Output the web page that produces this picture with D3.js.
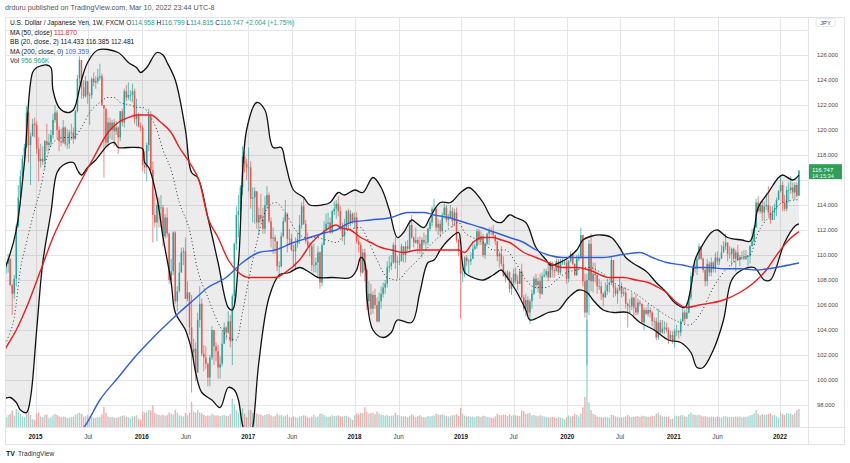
<!DOCTYPE html>
<html>
<head>
<meta charset="utf-8">
<script src="https://cdn.jsdelivr.net/npm/d3@7"></script>
<style>
  body { margin: 0; background: #fff; }
  svg { display: block; font-family: "Liberation Sans", Arial, sans-serif; }
</style>
</head>
<body>
<div class="svg-container"></div>
<script>
// weekly USD/JPY bars, first bar = week of 2014-09-15
var firstOpen = 107.3;

var closes = [
  109.0,109.3,109.7,107.6,106.9,108.1,112.3,114.6,116.3,117.7,118.6,121.4,118.8,119.5,120.5,120.4,
  118.5,117.5,117.7,117.5,119.1,118.8,119.0,119.6,120.8,121.4,120.0,119.1,
  119.0,120.2,118.9,118.9,119.8,119.8,119.3,121.5,124.1,125.6,123.4,122.7,
  123.9,122.8,122.8,124.1,123.8,123.9,124.2,124.3,122.0,121.7,119.0,120.6,
  120.0,120.6,119.9,120.2,119.4,121.5,120.6,123.1,122.6,122.8,122.8,123.1,120.9,121.2,120.3,120.2,
  117.2,117.0,118.8,121.1,116.8,113.2,112.6,114.0,113.8,113.8,111.5,113.0,
  111.7,108.0,108.7,111.8,106.3,107.1,108.6,110.2,110.3,106.5,107.0,104.2,
  102.2,102.5,100.6,104.8,106.1,102.1,101.8,101.3,100.2,101.8,104.0,102.7,
  102.3,101.0,101.3,102.9,104.2,103.8,104.7,103.1,106.7,110.9,113.2,113.5,115.4,117.9,117.3,117.0,
  117.0,114.5,114.6,115.1,112.6,113.2,112.9,112.1,114.0,114.8,112.7,111.3,
  111.4,111.1,109.1,109.1,111.5,112.7,113.3,111.3,111.3,110.4,110.3,110.9,
  111.3,112.4,113.9,112.5,111.1,110.7,110.7,109.2,109.2,109.4,110.2,107.8,
  110.8,112.0,112.5,112.6,111.8,113.5,113.7,114.1,113.5,112.1,111.5,112.2,113.5,112.6,113.3,112.7,
  113.0,111.1,110.8,108.6,110.2,108.8,106.3,106.9,105.7,106.8,106.0,104.7,
  106.3,106.9,107.4,107.7,109.0,109.1,109.4,110.8,109.4,109.5,109.5,110.7,
  110.0,110.7,110.5,112.4,111.4,111.0,111.2,110.9,110.5,111.2,111.0,111.0,
  112.1,112.6,113.7,113.7,112.2,112.5,111.9,113.2,113.8,112.8,113.0,113.5,112.7,113.4,111.2,110.3,108.5,
  108.5,109.8,109.5,109.5,109.7,110.5,110.7,111.9,111.2,111.5,110.0,110.9,
  111.7,112.0,111.9,111.6,111.1,109.9,110.1,109.3,108.3,108.2,108.6,107.3,
  107.8,108.5,107.9,107.7,108.7,106.6,105.7,106.4,105.4,106.3,106.9,108.1,
  107.6,107.9,106.9,108.3,108.4,108.7,108.2,109.3,108.8,108.7,109.5,108.6,109.4,109.4,109.4,108.1,
  109.5,110.1,109.3,108.4,109.7,109.8,111.6,107.9,105.4,108.0,110.9,107.9,
  108.5,108.4,107.5,107.5,106.9,106.6,107.1,107.6,107.8,109.6,107.4,106.9,
  107.2,107.5,106.9,107.0,106.1,105.9,105.9,106.6,105.8,105.4,106.2,106.1,
  104.6,105.6,105.3,105.6,105.4,104.7,104.7,103.4,104.6,103.8,104.1,104.2,104.0,103.3,103.6,103.2,
  103.9,103.9,103.8,104.7,105.4,104.9,105.4,106.6,108.3,109.0,108.9,109.7,
  110.7,109.7,108.8,107.9,109.3,108.6,109.4,108.9,109.8,109.5,109.7,110.2,
  110.7,111.0,110.1,110.1,110.5,109.7,110.2,109.6,109.8,109.8,109.7,109.9,
  109.9,110.7,111.1,112.2,114.2,113.5,114.0,113.4,113.9,114.0,113.4,112.8,113.4,113.7,114.4,115.1,
  115.6,114.2,113.7,115.2,115.2,115.4,115.0,115.6,114.74,116.747
];

var highs = [
  109.4,109.5,110.1,109.2,107.7,108.4,112.5,115.6,116.8,118.0,118.9,121.9,121.5,119.8,120.9,121.0,
  120.7,119.4,118.9,118.7,119.2,120.5,119.7,120.0,121.3,122.0,121.6,120.3,
  120.1,120.8,120.3,120.1,120.0,120.5,120.2,121.6,124.4,125.9,125.0,124.0,
  124.3,123.9,123.0,124.2,124.6,124.3,124.9,125.3,124.5,122.0,121.6,121.0,
  121.0,120.8,120.9,120.7,120.3,121.5,121.7,123.3,123.6,123.8,123.2,123.7,123.3,122.5,121.4,120.6,
  120.4,118.3,119.0,121.7,121.5,117.5,114.9,114.2,114.6,114.8,114.0,113.3,
  113.8,111.8,109.7,111.9,111.9,107.5,109.4,110.6,110.6,111.4,107.9,107.0,
  106.8,103.3,103.0,105.4,107.5,106.5,102.8,102.7,101.4,102.0,104.3,104.0,
  103.0,102.8,101.9,103.9,104.6,104.3,105.5,105.2,106.9,111.0,113.9,114.8,115.6,118.7,118.3,117.7,
  118.6,117.5,115.4,115.4,115.0,113.8,114.9,113.8,114.7,115.5,115.0,113.0,
  112.2,111.6,111.0,109.5,111.8,113.0,114.4,113.4,112.1,111.7,110.8,111.4,
  111.8,113.2,114.2,114.5,112.8,111.8,111.0,110.9,110.9,109.8,110.7,110.3,
  111.0,112.7,113.3,113.4,113.0,113.6,114.3,114.4,114.7,113.9,112.6,112.9,113.6,113.7,113.6,113.4,
  113.4,113.4,111.5,111.0,110.5,110.5,108.9,107.9,107.7,107.1,107.3,106.6,
  107.0,107.5,107.8,108.0,109.5,109.9,110.0,111.0,111.4,109.9,110.3,110.9,
  110.6,111.1,111.2,112.8,113.2,111.5,112.2,111.4,111.5,111.4,111.8,111.6,
  112.2,112.8,113.9,114.5,113.9,112.9,112.8,113.4,114.1,114.0,113.3,114.0,113.8,113.7,113.8,111.3,110.1,
  109.0,109.9,110.0,109.7,110.2,111.1,110.9,112.1,112.1,111.9,111.7,111.0,
  111.8,112.2,112.2,112.4,111.6,111.0,110.3,110.7,109.9,108.7,108.8,108.7,
  108.2,108.9,109.0,108.4,108.8,109.3,106.8,106.9,106.7,106.5,107.2,108.3,
  108.5,108.2,108.5,108.6,108.9,108.9,109.3,109.5,109.5,109.0,109.7,109.7,109.7,109.7,109.6,109.7,
  109.6,110.3,110.2,109.3,110.0,110.1,112.2,111.6,108.5,108.5,111.2,111.7,
  109.4,109.4,108.1,108.1,107.9,107.0,107.8,108.1,107.9,109.9,109.6,107.6,
  107.4,108.2,107.8,107.4,107.4,106.2,106.5,107.0,106.6,106.9,106.5,106.4,
  106.1,105.8,105.8,106.1,105.8,105.5,105.0,105.0,105.7,104.8,104.8,104.7,104.6,104.2,103.9,103.9,
  104.1,104.4,104.0,104.9,105.8,105.6,106.2,106.7,108.6,109.2,109.4,109.9,
  110.9,110.7,109.8,108.9,109.7,109.5,109.8,109.5,110.2,110.3,109.8,110.8,
  111.1,111.7,111.0,110.7,110.6,110.6,110.4,110.8,110.0,110.3,110.4,110.4,
  110.0,110.8,112.1,112.4,114.5,114.7,114.3,114.4,114.3,115.0,115.5,113.9,113.9,114.1,114.6,115.2,
  116.4,115.9,114.8,115.5,115.8,116.3,115.8,115.8,115.8,116.799
];

var lows = [
  107.1,108.5,108.6,107.5,105.2,106.5,107.5,112.2,114.0,116.1,117.2,118.6,117.4,115.6,119.5,119.4,
  118.1,115.9,117.0,117.2,116.9,118.3,118.3,118.7,119.3,120.6,119.3,118.3,
  118.7,118.9,118.7,118.5,118.5,119.2,118.9,119.2,121.4,123.7,122.5,122.5,
  122.6,122.1,120.4,122.5,123.5,123.3,123.7,124.0,121.9,116.2,118.6,118.6,
  119.3,119.2,118.7,119.6,118.1,119.1,120.3,120.2,122.3,122.4,122.3,122.2,120.5,120.3,120.2,119.9,
  116.7,116.5,115.9,118.3,116.5,111.0,112.2,111.1,112.2,112.2,110.7,111.3,
  111.4,107.7,107.6,108.4,106.1,105.5,107.0,108.7,109.2,106.5,106.3,103.6,
  99.0,101.4,99.9,100.6,104.2,101.9,100.7,100.9,99.5,99.5,101.6,101.2,
  101.5,100.1,100.1,101.1,103.0,103.2,103.7,102.6,101.2,106.1,110.4,111.4,112.9,114.8,116.6,116.0,
  115.1,113.7,112.6,112.5,112.1,111.6,112.6,111.7,111.7,113.7,112.6,110.6,
  110.1,110.1,108.7,108.1,109.0,111.4,112.6,110.2,110.8,110.3,109.1,108.8,
  110.6,110.9,112.1,112.4,110.9,110.6,109.9,108.7,108.6,108.6,108.3,107.3,
  107.5,110.8,111.9,112.1,111.7,111.7,113.2,112.9,113.1,112.0,111.1,110.8,112.0,112.1,112.3,112.5,
  112.1,110.9,110.2,108.3,108.5,107.9,105.6,105.6,105.2,105.3,105.7,104.6,
  104.6,105.7,106.6,106.9,107.4,108.6,108.8,109.3,108.9,108.1,109.2,109.6,
  109.4,109.4,110.3,110.3,111.3,110.6,110.9,110.1,110.1,109.8,110.8,110.4,
  110.8,111.9,112.3,113.5,111.9,111.6,111.4,111.8,112.9,112.6,112.3,112.9,112.2,112.3,111.0,109.9,104.9,
  107.8,108.2,109.1,108.5,109.2,109.7,110.4,110.5,110.8,110.8,109.8,109.7,
  110.8,110.8,111.6,111.4,110.8,109.5,109.0,109.1,108.3,107.8,108.0,107.0,
  106.8,107.6,107.7,107.2,107.7,106.5,105.5,105.1,105.1,104.5,105.7,106.8,
  107.3,107.0,106.5,106.8,108.2,108.2,107.9,108.2,108.2,108.2,108.7,108.4,108.4,109.2,109.2,107.7,
  107.8,109.4,109.2,108.3,108.3,109.5,109.7,107.5,105.0,101.2,105.2,107.1,
  107.0,107.8,106.9,107.2,106.4,105.9,106.6,106.8,107.0,107.6,106.6,106.7,
  106.1,107.1,106.6,106.7,105.7,104.2,105.3,105.6,105.1,105.2,105.2,105.9,
  104.5,104.0,105.2,105.1,105.0,104.3,104.0,103.2,103.2,103.7,103.7,103.7,103.8,102.9,103.1,102.9,
  102.6,103.5,103.3,103.5,104.6,104.5,104.9,105.3,106.4,108.3,108.6,108.4,
  109.6,109.6,108.6,107.5,107.5,108.3,108.3,108.6,108.6,109.2,109.2,109.7,
  110.2,110.4,109.5,109.7,109.1,109.4,108.7,109.5,109.1,109.6,109.6,109.6,
  109.1,109.3,110.7,110.8,112.2,113.4,113.3,112.7,112.7,113.6,113.1,112.5,113.0,112.8,113.1,114.4,
  115.0,113.5,113.5,113.5,114.2,114.9,114.5,114.4,114.6,114.815
];

// volume, thousands
var volumes = [
  560,520,640,700,880,600,950,820,700,560,520,760,820,640,420,380,
  700,780,560,520,640,660,480,520,620,700,640,560,
  520,560,540,480,500,520,540,660,720,760,700,560,
  580,640,560,520,480,500,520,540,680,1060,760,560,
  520,540,500,480,520,560,600,620,540,520,460,580,560,620,440,380,
  820,760,780,900,880,1150,760,680,640,620,660,600,
  640,780,700,660,900,760,620,600,560,740,620,760,
  1330,820,760,900,780,720,640,580,620,600,720,640,
  600,620,580,620,640,580,600,680,1500,1200,900,760,800,1000,700,520,
  880,900,760,740,720,680,660,600,640,680,700,620,
  560,580,700,620,640,560,600,660,520,500,560,520,
  480,560,580,620,600,520,480,540,660,520,560,700,
  720,640,560,540,560,620,580,600,620,560,540,580,600,540,460,380,
  620,720,680,760,740,1050,800,720,740,760,680,820,
  720,660,640,600,640,580,600,620,760,640,620,580,
  560,580,520,600,680,600,540,580,620,560,520,540,
  580,560,600,620,700,660,640,680,620,580,560,600,620,640,680,600,1000,
  720,600,560,580,540,560,520,580,560,540,600,580,
  540,520,500,480,560,700,640,620,660,640,580,680,
  600,640,620,600,580,880,820,700,720,760,620,640,
  600,580,620,600,560,540,520,500,540,520,480,520,500,480,420,520,
  620,560,600,680,640,560,720,1050,1600,5700,1300,900,
  700,640,560,540,520,500,540,520,500,660,620,560,
  540,520,500,520,560,640,560,520,540,560,580,540,
  600,580,560,540,560,600,580,700,760,620,560,560,540,560,420,440,
  560,600,580,620,640,560,540,680,760,660,640,620,
  660,600,560,580,540,520,560,540,520,560,520,500,
  560,580,540,520,540,520,560,540,560,500,540,540,
  560,620,640,720,900,700,620,680,640,660,700,740,620,640,560,480,
  780,700,640,740,700,720,660,740,900,957
];

// indicator lines: [week index, price]
var upperBand = [
  [0,108.8],[2,109.6],[6,112.0],[10,117.4],[14,124.6],[16,125.0],[21,125.2],[23,125.0],[24,123.2],[27,121.8],
  [31,121.4],[34,121.6],[38,124.0],[41,125.4],[46,126.4],[56,126.2],[61,125.4],[65,125.0],[67,124.6],[70,125.0],
  [75,126.2],[78,126.0],[80,125.4],[84,124.0],[89,120.0],[92,116.6],[95,116.2],[100,113.0],[105,109.4],[110,105.8],
  [112,105.6],[115,109.4],[119,120.0],[124,122.2],[128,121.6],[132,118.6],[136,118.6],[138,117.4],[142,115.2],[147,114.6],
  [150,114.0],[156,114.0],[160,114.2],[164,115.0],[167,114.8],[172,115.2],[176,115.0],[181,116.2],[185,115.4],[189,113.6],
  [193,111.4],[196,111.8],[200,112.8],[202,112.6],[206,112.2],[209,113.0],[214,114.2],[219,114.2],[224,115.0],[228,115.4],
  [230,115.2],[235,114.2],[240,112.8],[244,112.6],[248,113.2],[251,113.0],[256,112.6],[261,110.6],[266,109.6],[268,109.2],
  [275,109.6],[281,110.4],[284,111.2],[288,111.5],[293,111.6],[298,111.4],[302,110.6],[305,109.8],[309,109.3],[315,108.7],
  [320,107.8],[325,107.0],[329,106.2],[334,105.8],[337,107.4],[339,109.6],[342,110.6],[347,111.8],[350,112.0],[355,111.4],
  [362,111.2],[366,111.1],[368,112.0],[370,113.8],[375,115.0],[380,116.2],[382,116.4],[387,116.0],[390,116.385]
];
var lowerBand = [
  [0,98.5],[3,98.6],[6,98.2],[8,97.6],[11,97.4],[13,98.6],[16,104.0],[19,109.4],[23,113.4],[26,116.6],
  [29,117.2],[34,117.4],[36,116.8],[38,116.4],[41,117.0],[45,117.6],[51,118.8],[54,119.0],[56,118.6],[61,118.6],
  [66,118.6],[68,118.5],[69,117.4],[71,117.0],[75,114.6],[78,111.4],[82,107.8],[84,105.4],[89,104.0],[92,102.4],
  [94,100.6],[97,99.0],[102,98.4],[106,97.8],[110,99.4],[113,99.2],[115,98.4],[117,96.4],[120,95.0],[122,96.2],
  [125,101.4],[130,106.6],[135,108.4],[140,108.6],[145,109.0],[150,108.6],[154,108.2],[161,108.2],[170,108.2],[173,108.8],
  [175,109.8],[177,109.4],[178,106.6],[181,104.0],[186,103.4],[190,103.8],[193,104.8],[200,104.6],[204,107.0],[208,109.4],
  [211,109.6],[214,110.4],[218,111.2],[223,111.8],[224,111.0],[226,108.6],[230,108.2],[235,108.0],[240,108.4],[244,108.8],
  [246,108.4],[251,107.2],[256,105.6],[258,104.8],[262,105.0],[267,105.4],[272,105.6],[277,106.6],[282,107.2],[286,107.0],
  [289,106.4],[294,105.6],[299,105.4],[306,105.4],[312,104.6],[319,104.0],[326,103.2],[332,103.0],[337,102.2],[340,101.0],
  [343,101.0],[348,102.4],[353,104.8],[357,108.0],[362,108.8],[368,109.0],[373,108.0],[376,108.0],[383,111.0],[388,112.3],
  [390,112.481]
];
var basisLine = [
  [0,102.6],[2,103.4],[5,105.0],[8,108.8],[11,111.0],[14,113.0],[18,115.4],[21,117.8],[24,119.0],[29,119.4],
  [34,119.4],[38,120.2],[42,121.4],[47,122.2],[51,122.6],[54,122.6],[57,122.2],[62,122.0],[66,121.8],[68,121.8],
  [72,121.0],[75,120.0],[78,118.4],[82,116.8],[86,114.2],[91,112.0],[95,108.8],[100,106.6],[105,104.6],[110,103.4],
  [114,103.2],[117,105.4],[120,108.0],[124,111.0],[128,113.4],[133,114.2],[138,113.4],[143,112.0],[148,111.4],[153,111.4],
  [158,111.2],[163,111.0],[169,112.0],[175,112.2],[178,111.4],[183,109.6],[188,108.2],[193,108.0],[198,108.8],[203,109.6],
  [208,110.6],[213,111.4],[219,112.2],[223,112.6],[226,111.8],[230,111.4],[235,111.0],[240,110.4],[246,110.4],[251,109.4],
  [256,108.0],[261,107.4],[266,107.4],[271,108.0],[276,108.6],[281,108.8],[287,109.0],[293,108.6],[299,107.8],[309,107.0],
  [319,105.8],[329,104.8],[336,104.4],[342,105.4],[348,107.4],[355,109.0],[362,109.8],[366,110.0],[370,111.8],[375,113.0],
  [382,114.2],[390,114.433]
];
var ma50 = [
  [0,102.3],[1,102.6],[6,104.0],[11,105.8],[18,108.8],[24,111.4],[31,113.8],[38,116.0],[44,117.8],[51,119.8],
  [56,120.6],[61,121.0],[65,121.2],[72,121.2],[77,120.6],[82,119.8],[86,118.6],[91,117.4],[96,115.8],[100,113.0],
  [105,111.4],[110,109.6],[115,108.6],[120,108.2],[127,108.2],[133,108.2],[138,108.6],[145,109.6],[151,111.0],[158,112.0],
  [163,112.4],[165,112.2],[170,112.0],[175,111.4],[180,111.0],[185,110.6],[190,110.4],[196,110.2],[203,110.4],[209,110.4],
  [216,110.4],[223,110.4],[226,110.2],[230,111.0],[235,111.4],[240,111.4],[244,111.2],[248,111.0],[255,110.2],[261,109.8],
  [267,109.4],[274,109.0],[281,109.0],[287,108.8],[290,108.6],[297,108.2],[304,108.2],[310,108.0],[316,107.8],[321,107.4],
  [325,107.0],[330,106.2],[335,105.8],[341,106.0],[353,106.4],[361,107.0],[368,107.8],[374,108.8],[380,110.2],[385,111.2],
  [390,111.87]
];
var ma200 = [
  [36,95.6],[40,96.4],[47,98.4],[56,100.2],[64,101.8],[72,103.2],[82,104.8],[86,105.4],[93,106.4],[100,107.4],
  [109,108.2],[117,109.4],[125,110.2],[133,110.4],[142,111.0],[150,111.4],[158,111.8],[163,112.0],[170,112.6],[180,112.8],
  [190,113.0],[198,113.4],[206,113.4],[211,113.2],[218,113.0],[226,112.6],[234,112.2],[241,111.8],[248,111.4],[255,111.0],
  [261,110.4],[267,110.0],[274,109.8],[281,109.8],[287,109.8],[294,109.8],[302,110.0],[312,110.2],[318,109.8],[325,109.4],
  [333,109.2],[339,109.0],[346,109.0],[353,108.9],[361,108.9],[369,108.8],[375,108.9],[382,109.1],[390,109.359]
];

var priceTicks = [98,100,102,104,106,108,110,112,114,116,118,120,122,124,126,128];
var timeTickDates = ["2015-01-01","2015-07-01","2016-01-01","2016-06-01","2017-01-01","2017-06-01","2018-01-01","2018-06-01",
  "2019-01-01","2019-07-01","2020-01-01","2020-07-01","2021-01-01","2021-06-01","2022-01-01"];
var timeTickLabels = ["2015","Jul","2016","Jun","2017","Jun","2018","Jun","2019","Jul","2020","Jul","2021","Jun","2022"];

if (highs.length !== closes.length || lows.length !== closes.length || volumes.length !== closes.length) {
  throw new Error("length mismatch " + closes.length + " " + highs.length + " " + lows.length + " " + volumes.length);
}

var width = 850,
  height = 463;

var svg = d3.select(".svg-container").append("svg")
  .attr("width", width)
  .attr("height", height);

var plotL = 5, plotT = 17, plotR = 808, plotB = 427;
var start = new Date(2014, 8, 15);
var parse = d3.timeParse("%Y-%m-%d");

var x = d3.scaleTime()
  .domain([new Date(2015, 0, 1), new Date(2022, 0, 1)])
  .range([35.5, 780]);
var y = d3.scaleLinear().domain([98, 126]).range([405, 55]);
var vy = d3.scaleLinear().domain([0, 6000]).range([plotB, plotB - 113]);

var xw = function(i) { return x(d3.timeDay.offset(start, 7 * i)); };

var bars = closes.map(function(c, i) {
  var o = i === 0 ? firstOpen : closes[i - 1];
  return {
    i: i, o: o, c: c,
    h: Math.max(highs[i], o, c),
    l: Math.min(lows[i], o, c),
    v: volumes[i]
  };
});

// header
svg.append("text")
  .attr("x", 5).attr("y", 10)
  .attr("font-size", 7.2).attr("fill", "#555")
  .text("drduru published on TradingView.com, Mar 10, 2022 23:44 UTC-8");

// frame
svg.append("rect")
  .attr("x", plotL + 0.5).attr("y", plotT + 0.5)
  .attr("width", 844 - plotL).attr("height", 444 - plotT)
  .attr("fill", "none").attr("stroke", "#e0e3eb");
svg.append("line").attr("x1", plotR + 0.5).attr("x2", plotR + 0.5).attr("y1", plotT).attr("y2", 444.5)
  .attr("stroke", "#e0e3eb");
svg.append("line").attr("x1", plotL).attr("x2", 844.5).attr("y1", plotB + 0.5).attr("y2", plotB + 0.5)
  .attr("stroke", "#e0e3eb");

svg.append("clipPath").attr("id", "plotclip")
  .append("rect").attr("x", plotL + 1).attr("y", plotT + 1)
  .attr("width", plotR - plotL - 1).attr("height", plotB - plotT - 1);

var g = svg.append("g").attr("clip-path", "url(#plotclip)");

// grid
g.selectAll(".hgrid").data(priceTicks).enter().append("line")
  .attr("class", "hgrid")
  .attr("x1", plotL).attr("x2", plotR)
  .attr("y1", function(d) { return Math.round(y(d)) + 0.5; })
  .attr("y2", function(d) { return Math.round(y(d)) + 0.5; })
  .attr("stroke", "#e3e5ea");
g.selectAll(".vgrid").data(timeTickDates).enter().append("line")
  .attr("class", "vgrid")
  .attr("y1", plotT).attr("y2", plotB)
  .attr("x1", function(d) { return Math.round(x(parse(d))) + 0.5; })
  .attr("x2", function(d) { return Math.round(x(parse(d))) + 0.5; })
  .attr("stroke", "#e3e5ea");

// volume
g.selectAll(".vol").data(bars).enter().append("rect")
  .attr("class", "vol")
  .attr("x", function(d) { return xw(d.i) - 0.7; })
  .attr("width", 1.4)
  .attr("y", function(d) { return vy(d.v); })
  .attr("height", function(d) { return plotB - vy(d.v); })
  .attr("fill", function(d) { return d.c >= d.o ? "#9fd8d1" : "#f6aaa8"; });

// bollinger fill
var curve = d3.line()
  .x(function(d) { return xw(d[0]); })
  .y(function(d) { return y(d[1]); })
  .curve(d3.curveCatmullRom.alpha(0.5));

var fillPath = curve(upperBand) + curve(lowerBand.slice().reverse()).replace(/^M/, "L") + "Z";
g.append("path").attr("d", fillPath).attr("fill", "rgba(0,0,0,0.075)");

// candles
var cg = g.selectAll(".candle").data(bars).enter().append("g").attr("class", "candle");
cg.append("line")
  .attr("x1", function(d) { return xw(d.i); })
  .attr("x2", function(d) { return xw(d.i); })
  .attr("y1", function(d) { return y(d.h); })
  .attr("y2", function(d) { return y(d.l); })
  .attr("stroke", function(d) { return d.c >= d.o ? "#26a69a" : "#ef5350"; })
  .attr("stroke-width", 0.7);
cg.append("rect")
  .attr("x", function(d) { return xw(d.i) - 0.75; })
  .attr("width", 1.5)
  .attr("y", function(d) { return y(Math.max(d.o, d.c)); })
  .attr("height", function(d) { return Math.max(0.7, Math.abs(y(d.o) - y(d.c))); })
  .attr("fill", function(d) { return d.c >= d.o ? "#26a69a" : "#ef5350"; });

// indicator lines
var smooth = d3.line()
  .x(function(d) { return xw(d[0]); })
  .y(function(d) { return y(d[1]); })
  .curve(d3.curveMonotoneX);

g.append("path").attr("d", curve(upperBand)).attr("fill", "none").attr("stroke", "#111").attr("stroke-width", 1.3);
g.append("path").attr("d", curve(lowerBand)).attr("fill", "none").attr("stroke", "#111").attr("stroke-width", 1.3);
g.append("path").attr("d", smooth(basisLine)).attr("fill", "none").attr("stroke", "#222")
  .attr("stroke-width", 1).attr("stroke-dasharray", "0.9,2.6");
g.append("path").attr("d", smooth(ma50)).attr("fill", "none").attr("stroke", "#ee1c1c").attr("stroke-width", 1.4);
g.append("path").attr("d", smooth(ma200)).attr("fill", "none").attr("stroke", "#2f5fe0").attr("stroke-width", 1.4);

// legend
var leg = svg.append("g").attr("font-size", 6.6).attr("fill", "#131722");
var l1 = leg.append("text").attr("x", 10).attr("y", 25);
l1.append("tspan").text("U.S. Dollar / Japanese Yen, 1W, FXCM ");
[["O", "114.958"], ["H", "116.799"], ["L", "114.815"], ["C", "116.747"]].forEach(function(p) {
  l1.append("tspan").text(p[0]);
  l1.append("tspan").attr("fill", "#22a08a").text(p[1] + " ");
});
l1.append("tspan").attr("fill", "#22a08a").text("+2.004 (+1.75%)");

var l2 = leg.append("text").attr("x", 10).attr("y", 34.5);
l2.append("tspan").text("MA (50, close) ");
l2.append("tspan").attr("fill", "#ee1c1c").text("111.870");
var l3 = leg.append("text").attr("x", 10).attr("y", 44);
l3.append("tspan").text("BB (20, close, 2) 114.433  116.385  112.481");
var l4 = leg.append("text").attr("x", 10).attr("y", 53.5);
l4.append("tspan").text("MA (200, close, 0) ");
l4.append("tspan").attr("fill", "#2f5fe0").text("109.359");
var l5 = leg.append("text").attr("x", 10).attr("y", 63);
l5.append("tspan").text("Vol ");
l5.append("tspan").attr("fill", "#22a08a").text("956.966K");

// price axis
svg.selectAll(".plabel").data(priceTicks.filter(function(d) { return d !== 116 && d !== 128; })).enter().append("text")
  .attr("class", "plabel")
  .attr("x", 817).attr("y", function(d) { return y(d) + 2; })
  .attr("font-size", 5.8).attr("fill", "#4a4a4a")
  .text(function(d) { return d3.format(".3f")(d); });

svg.append("rect").attr("x", 816).attr("y", 18.5).attr("width", 19).attr("height", 8)
  .attr("rx", 1.5).attr("fill", "#fff").attr("stroke", "#d6d8de").attr("stroke-width", 0.6);
svg.append("text").attr("x", 825.5).attr("y", 24.8).attr("text-anchor", "middle")
  .attr("font-size", 5.8).attr("fill", "#4a4a4a").text("JPY");

var lastY = y(closes[closes.length - 1]);
svg.append("rect").attr("x", 809).attr("y", lastY - 6.5).attr("width", 33).attr("height", 15)
  .attr("fill", "#2f9e56");
svg.append("text").attr("x", 812).attr("y", lastY + 1.2)
  .attr("font-size", 6).attr("fill", "#fff").text("116.747");
svg.append("text").attr("x", 812).attr("y", lastY + 7.2)
  .attr("font-size", 5.6).attr("fill", "#e6f5ea").text("14:15:34");

// time axis
svg.selectAll(".tlabel").data(timeTickDates).enter().append("text")
  .attr("class", "tlabel")
  .attr("x", function(d) { return x(parse(d)); })
  .attr("y", 438.5)
  .attr("text-anchor", "middle")
  .attr("font-size", 6.3)
  .attr("font-weight", function(d, i) { return /^\d+$/.test(timeTickLabels[i]) ? "bold" : "normal"; })
  .attr("fill", function(d, i) { return /^\d+$/.test(timeTickLabels[i]) ? "#131722" : "#444"; })
  .text(function(d, i) { return timeTickLabels[i]; });

// footer logo
svg.append("text").attr("x", 6).attr("y", 455.5).attr("font-size", 7).attr("font-weight", "bold")
  .attr("fill", "#131722").text("TV");
svg.append("text").attr("x", 18).attr("y", 455.5).attr("font-size", 6.6)
  .attr("fill", "#333").text("TradingView");
</script>
</body>
</html>
